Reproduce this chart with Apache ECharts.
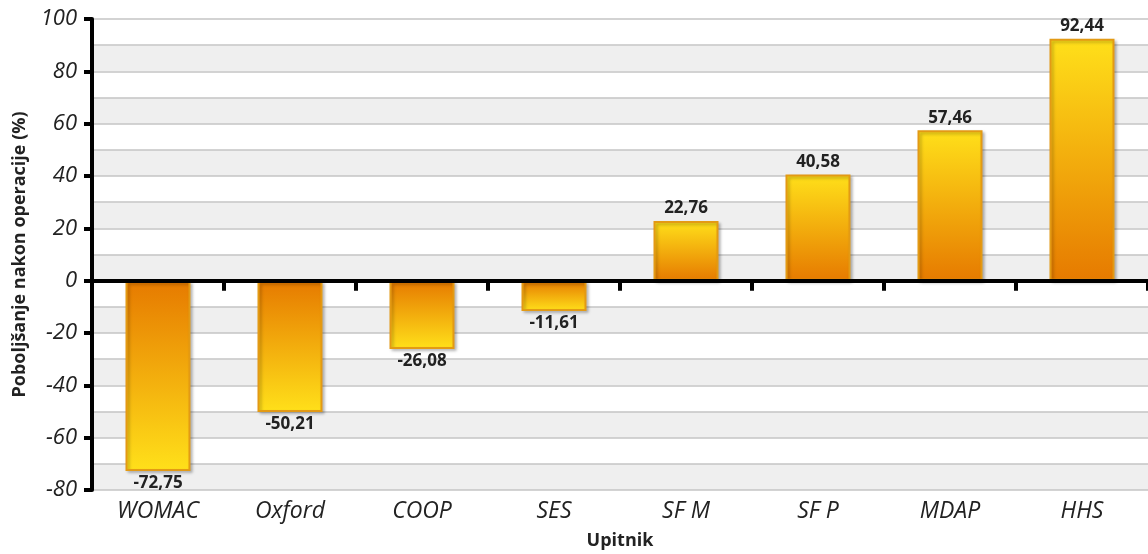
<!DOCTYPE html>
<html>
<head>
<meta charset="utf-8">
<script src="https://cdn.jsdelivr.net/npm/echarts@6/dist/echarts.min.js"></script>
<style>
html,body{margin:0;padding:0;background:#fff;}
#c{width:1148px;height:554px;}
</style>
</head>
<body>
<div id="c"></div>
<script>
const categories = ['WOMAC', 'Oxford', 'COOP', 'SES', 'SF M', 'SF P', 'MDAP', 'HHS'];
const values = [-72.75, -50.21, -26.08, -11.61, 22.76, 40.58, 57.46, 92.44];
const yTicks = [-80, -60, -40, -20, 0, 20, 40, 60, 80, 100];
const yTitle = 'Poboljšanje nakon operacije (%)';
const xTitle = 'Upitnik';

const FONT = '"Open Sans", "Liberation Sans", sans-serif';
const ORANGE = '#e67a00';
const YELLOW = '#ffe01a';

function grad(neg) {
  return {
    type: 'linear', x: 0, y: 0, x2: 0, y2: 1,
    colorStops: neg
      ? [{offset: 0, color: ORANGE}, {offset: 1, color: YELLOW}]
      : [{offset: 0, color: YELLOW}, {offset: 1, color: ORANGE}]
  };
}

const seriesData = values.map(v => ({
  value: v,
  itemStyle: {color: grad(v < 0)},
  label: {position: v < 0 ? 'bottom' : 'top'}
}));

const chart = echarts.init(document.getElementById('c'), null, {renderer: 'canvas'});
chart.setOption({
  animation: false,
  backgroundColor: '#fff',
  grid: {left: 92, right: 0, top: 19, bottom: 64, containLabel: false, outerBoundsMode: 'none'},
  xAxis: [
    {
      type: 'category', data: categories, z: 6,
      axisLine: {onZero: true, lineStyle: {color: '#000', width: 4}},
      axisTick: {show: true, length: 10, alignWithLabel: false, lineStyle: {color: '#000', width: 4}},
      axisLabel: {show: false},
      splitLine: {show: false}
    },
    {
      type: 'category', data: categories, position: 'bottom',
      axisLine: {show: false, onZero: false},
      axisTick: {show: false},
      axisLabel: {margin: 10, fontFamily: FONT, fontStyle: 'italic', fontSize: 23, color: '#222'},
      name: xTitle, nameLocation: 'middle', nameGap: 42,
      nameTextStyle: {fontFamily: FONT, fontWeight: 'bold', fontSize: 18, color: '#222'}
    }
  ],
  yAxis: [
    {
      type: 'value', min: yTicks[0], max: yTicks[yTicks.length - 1], interval: 20, z: 5,
      axisLine: {show: true, lineStyle: {color: '#000', width: 4}},
      axisTick: {show: true, length: 8, lineStyle: {color: '#000', width: 4}},
      axisLabel: {margin: 15, fontFamily: FONT, fontStyle: 'italic', fontSize: 22, color: '#222',
        formatter: v => String(v)},
      splitLine: {show: false},
      name: yTitle, nameLocation: 'middle', nameGap: 63, nameRotate: 90,
      nameTextStyle: {fontFamily: FONT, fontWeight: 'bold', fontSize: 18, color: '#222'}
    },
    {
      type: 'value', min: yTicks[0], max: yTicks[yTicks.length - 1], interval: 10, z: 0,
      axisLine: {show: false}, axisTick: {show: false}, axisLabel: {show: false},
      splitLine: {show: true, lineStyle: {color: '#c4c4c4', width: 1.5}},
      splitArea: {show: true, areaStyle: {color: ['#efefef', '#ffffff']}}
    }
  ],
  series: [{
    type: 'bar', xAxisIndex: 0, yAxisIndex: 0, z: 3,
    data: seriesData,
    barWidth: 65,
    itemStyle: {borderColor: '#e39a14', borderWidth: 2,
      shadowColor: 'rgba(0,0,0,0.25)', shadowBlur: 3, shadowOffsetX: 2, shadowOffsetY: 2},
    label: {show: true, distance: 4, fontFamily: FONT, fontWeight: 'bold', fontSize: 17, color: '#222',
      formatter: p => p.value.toFixed(2).replace('.', ',')}
  }]
});
</script>
</body>
</html>
